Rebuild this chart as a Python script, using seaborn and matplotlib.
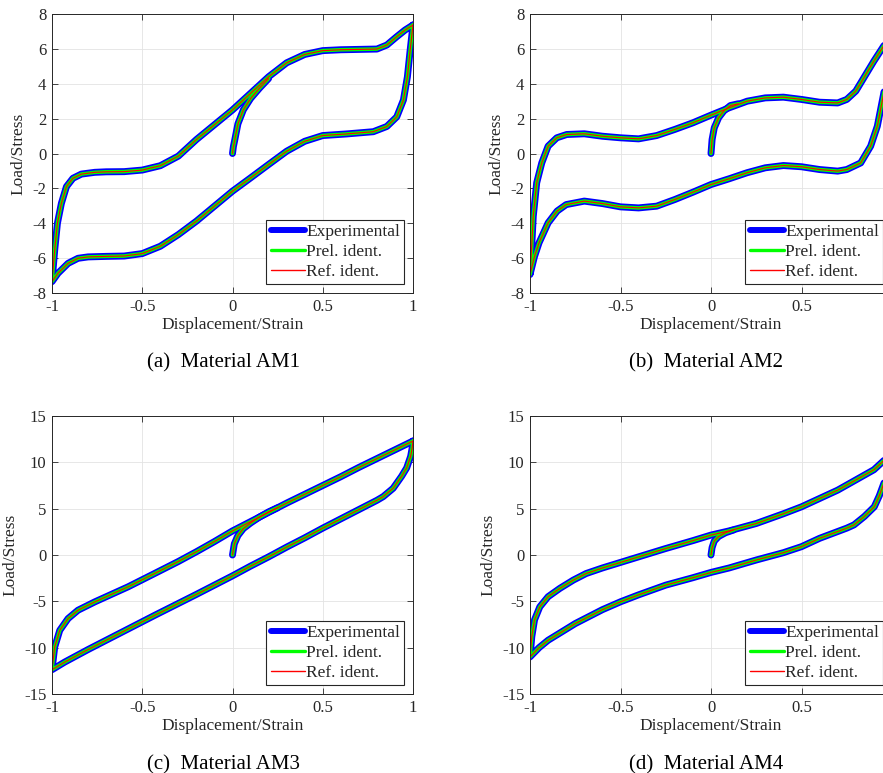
import matplotlib
matplotlib.use("Agg")
import matplotlib.pyplot as plt
import seaborn as sns
import pandas as pd
from matplotlib.lines import Line2D

# values (x = displacement/strain, y = load/stress)
# AM1
am1_virgin_x = [0, 0.005, 0.013, 0.03, 0.06, 0.1, 0.15, 0.2]
am1_virgin_y = [0, 0.4, 0.8, 1.7, 2.5, 3.15, 3.75, 4.3]
am1_lower_x = [1.0, 0.984, 0.969, 0.947, 0.91, 0.855, 0.78, 0.63, 0.5, 0.4, 0.3, 0.2, 0.1, 0,
               -0.1, -0.2, -0.3, -0.4, -0.5, -0.6, -0.7, -0.8, -0.856, -0.911, -0.967, -1.0]
am1_lower_y = [7.37, 5.9, 4.4, 3.07, 2.1, 1.55, 1.25, 1.12, 1.03, 0.7, 0.13, -0.63, -1.4, -2.16,
               -3.02, -3.88, -4.65, -5.32, -5.74, -5.88, -5.9, -5.93, -6.01, -6.3, -6.87, -7.35]
am1_upper_x = [-1.0, -0.985, -0.97, -0.948, -0.92, -0.884, -0.837, -0.763, -0.7, -0.6, -0.5, -0.4,
               -0.3, -0.2, -0.1, 0, 0.1, 0.2, 0.3, 0.4, 0.5, 0.6, 0.7, 0.8, 0.855, 0.91, 0.956, 1.0]
am1_upper_y = [-7.35, -5.53, -4.0, -2.86, -1.9, -1.42, -1.18, -1.08, -1.05, -1.04, -0.95, -0.7,
               -0.15, 0.8, 1.65, 2.5, 3.45, 4.4, 5.2, 5.68, 5.9, 5.95, 5.97, 5.99, 6.22, 6.7, 7.08, 7.37]

# AM2
am2_virgin_x = [0, 0.006, 0.018, 0.042, 0.07, 0.107, 0.15]
am2_virgin_y = [0, 0.8, 1.47, 2.05, 2.43, 2.75, 2.85]
am2_lower_x = [1.0, 0.99, 0.975, 0.955, 0.919, 0.882, 0.827, 0.75, 0.7, 0.6, 0.5, 0.4, 0.3, 0.2, 0.1, 0,
               -0.1, -0.2, -0.3, -0.4, -0.5, -0.6, -0.7, -0.8, -0.85, -0.9, -0.95, -0.975, -1.0]
am2_lower_y = [6.9, 6.0, 4.8, 3.48, 1.57, 0.42, -0.54, -0.92, -1.01, -0.92, -0.76, -0.69, -0.82, -1.1,
               -1.45, -1.78, -2.22, -2.64, -3.02, -3.12, -3.06, -2.87, -2.73, -2.93, -3.3, -3.98, -5.12,
               -5.9, -6.94]
am2_upper_x = [-1.0, -0.99, -0.982, -0.963, -0.935, -0.9, -0.852, -0.797, -0.7, -0.6, -0.5, -0.4, -0.3,
               -0.2, -0.1, 0, 0.1, 0.2, 0.3, 0.4, 0.5, 0.6, 0.7, 0.75, 0.8, 0.85, 0.9, 0.95, 1.0]
am2_upper_y = [-6.94, -5.2, -3.6, -1.68, -0.54, 0.42, 0.9, 1.09, 1.13, 0.99, 0.9, 0.84, 1.03,
               1.38, 1.76, 2.2, 2.62, 3.0, 3.19, 3.23, 3.1, 2.94, 2.9, 3.1, 3.58, 4.44, 5.3, 6.1, 6.9]

# AM3
am3_virgin_x = [0, 0.01, 0.03, 0.06, 0.1, 0.15, 0.2, 0.25]
am3_virgin_y = [0, 1.2, 2.1, 2.85, 3.45, 4.1, 4.65, 5.1]
am3_lower_x = [1.0, 0.995, 0.987, 0.965, 0.937, 0.89, 0.835, 0.8, 0.7, 0.6, 0.5, 0.4, 0.3, 0.2, 0.1, 0,
               -0.2, -0.43, -0.6, -0.8, -0.93, -1.0]
am3_lower_y = [12.3, 11.5, 10.65, 9.4, 8.5, 7.2, 6.3, 5.9, 4.9, 3.9, 2.9, 1.85, 0.85, -0.2, -1.2, -2.25,
               -4.25, -6.5, -8.2, -10.2, -11.56, -12.38]
am3_upper_x = [-1.0, -0.985, -0.957, -0.911, -0.856, -0.763, -0.578, -0.43, -0.3, -0.2, -0.1, 0,
               0.1, 0.2, 0.3, 0.4, 0.5, 0.6, 0.7, 0.8, 0.9, 1.0]
am3_upper_y = [-12.38, -9.93, -8.13, -6.86, -5.96, -5.06, -3.43, -1.98, -0.7, 0.35, 1.45, 2.6,
               3.6, 4.6, 5.6, 6.55, 7.5, 8.45, 9.45, 10.4, 11.35, 12.3]

# AM4
am4_virgin_x = [0, 0.006, 0.018, 0.042, 0.08, 0.125]
am4_virgin_y = [0, 0.8, 1.5, 2.0, 2.4, 2.7]
am4_lower_x = [1.0, 0.99, 0.975, 0.96, 0.93, 0.902, 0.847, 0.79, 0.75, 0.6, 0.5, 0.4, 0.25, 0.1, 0,
               -0.1, -0.25, -0.4, -0.5, -0.6, -0.75, -0.9, -0.95, -1.0]
am4_lower_y = [11.0, 9.9, 8.9, 8.0, 6.4, 5.2, 4.15, 3.25, 2.9, 1.8, 0.9, 0.25, -0.54, -1.4, -1.88,
               -2.45, -3.25, -4.3, -5.05, -5.9, -7.4, -9.2, -10.0, -11.0]
am4_upper_x = [-1.0, -0.99, -0.975, -0.946, -0.9, -0.835, -0.76, -0.69, -0.6, -0.5, -0.4, -0.25, -0.1,
               0, 0.1, 0.25, 0.4, 0.5, 0.6, 0.7, 0.8, 0.9, 0.95, 1.0]
am4_upper_y = [-11.0, -8.8, -7.0, -5.6, -4.5, -3.6, -2.7, -2.0, -1.4, -0.8, -0.2, 0.7, 1.55,
               2.15, 2.6, 3.4, 4.45, 5.2, 6.1, 7.0, 8.1, 9.2, 10.1, 11.0]

captions = ["(a)  Material AM1", "(b)  Material AM2", "(c)  Material AM3", "(d)  Material AM4"]
series_names = ["Experimental", "Prel. ident.", "Ref. ident."]
x_ticks = [-1, -0.5, 0, 0.5, 1]
x_ticklabels = ["-1", "-0.5", "0", "0.5", "1"]
y_ticks_top = [-8, -6, -4, -2, 0, 2, 4, 6, 8]
y_ticks_bottom = [-15, -10, -5, 0, 5, 10, 15]


def make_frame(vx, vy, lx, ly, ux, uy):
    # virgin curve is its own segment, then the closed loop (lower then upper branch)
    part1 = pd.DataFrame({"x": vx, "y": vy, "seg": 0})
    part2 = pd.DataFrame({"x": lx + ux, "y": ly + uy, "seg": 1})
    return pd.concat([part1, part2], ignore_index=True)


frames = [
    make_frame(am1_virgin_x, am1_virgin_y, am1_lower_x, am1_lower_y, am1_upper_x, am1_upper_y),
    make_frame(am2_virgin_x, am2_virgin_y, am2_lower_x, am2_lower_y, am2_upper_x, am2_upper_y),
    make_frame(am3_virgin_x, am3_virgin_y, am3_lower_x, am3_lower_y, am3_upper_x, am3_upper_y),
    make_frame(am4_virgin_x, am4_virgin_y, am4_lower_x, am4_lower_y, am4_upper_x, am4_upper_y),
]

sns.set_style("ticks")
plt.rcParams["font.family"] = ["Liberation Serif", "DejaVu Serif"]
plt.rcParams["axes.unicode_minus"] = False

W, H = 883, 773
fig = plt.figure(figsize=(W / 100, H / 100), dpi=100)

# axes boxes in pixels: left, top, width, height (right column runs past the image edge)
boxes = [(52, 14, 361, 279), (530, 14, 362, 279), (52, 416, 361, 278), (530, 416, 362, 278)]
cap_pos = [(224, 363), (706, 363), (224, 765), (706, 765)]

styles = [("#0000ff", 5.0), ("#00ff00", 2.6), ("#ff0000", 0.8)]
axis_col = "#262626"

for i, df in enumerate(frames):
    l, t, w, h = boxes[i]
    ax = fig.add_axes([l / W, 1 - (t + h) / H, w / W, h / H])
    for color, lw in styles:
        sns.lineplot(data=df, x="x", y="y", units="seg", estimator=None, sort=False,
                     color=color, linewidth=lw, ax=ax, legend=False)
    ax.set_xlim(-1, 1)
    ax.set_xticks(x_ticks)
    labels = list(x_ticklabels)
    if i % 2 == 1:
        labels[-1] = ""  # lies beyond the cropped right edge
    ax.set_xticklabels(labels)
    if i < 2:
        ax.set_ylim(-8, 8)
        ax.set_yticks(y_ticks_top)
    else:
        ax.set_ylim(-15, 15)
        ax.set_yticks(y_ticks_bottom)
    ax.set_yticklabels([str(v) for v in ax.get_yticks().astype(int)])
    ax.grid(True, color="#e3e3e3", linewidth=0.6)
    ax.set_axisbelow(True)
    ax.tick_params(direction="in", length=4, width=0.6, top=True, right=True,
                   labelsize=12, colors=axis_col, pad=4)
    for sp in ax.spines.values():
        sp.set_color(axis_col)
        sp.set_linewidth(0.7)
    ax.set_xlabel("Displacement/Strain", fontsize=12.5, color=axis_col, labelpad=2)
    ax.set_ylabel("Load/Stress", fontsize=12.5, color=axis_col, labelpad=4)

    handles = [Line2D([], [], color=c, linewidth=lw) for c, lw in styles]
    handles[0].set_linewidth(4.3)
    handles[1].set_linewidth(2.4)
    handles[2].set_linewidth(1.0)
    leg = ax.legend(handles, series_names, loc="lower right", fontsize=12.5, frameon=True,
                    fancybox=False, edgecolor=axis_col, framealpha=1, handlelength=2.0,
                    handletextpad=0.05, labelspacing=0.22, borderpad=0.25, borderaxespad=0.5)
    leg.get_frame().set_linewidth(0.8)

    cx, cy = cap_pos[i]
    fig.text(cx / W, 1 - cy / H, captions[i], ha="center", va="center", fontsize=15, color="black")

fig.savefig("out.png", dpi=100)
